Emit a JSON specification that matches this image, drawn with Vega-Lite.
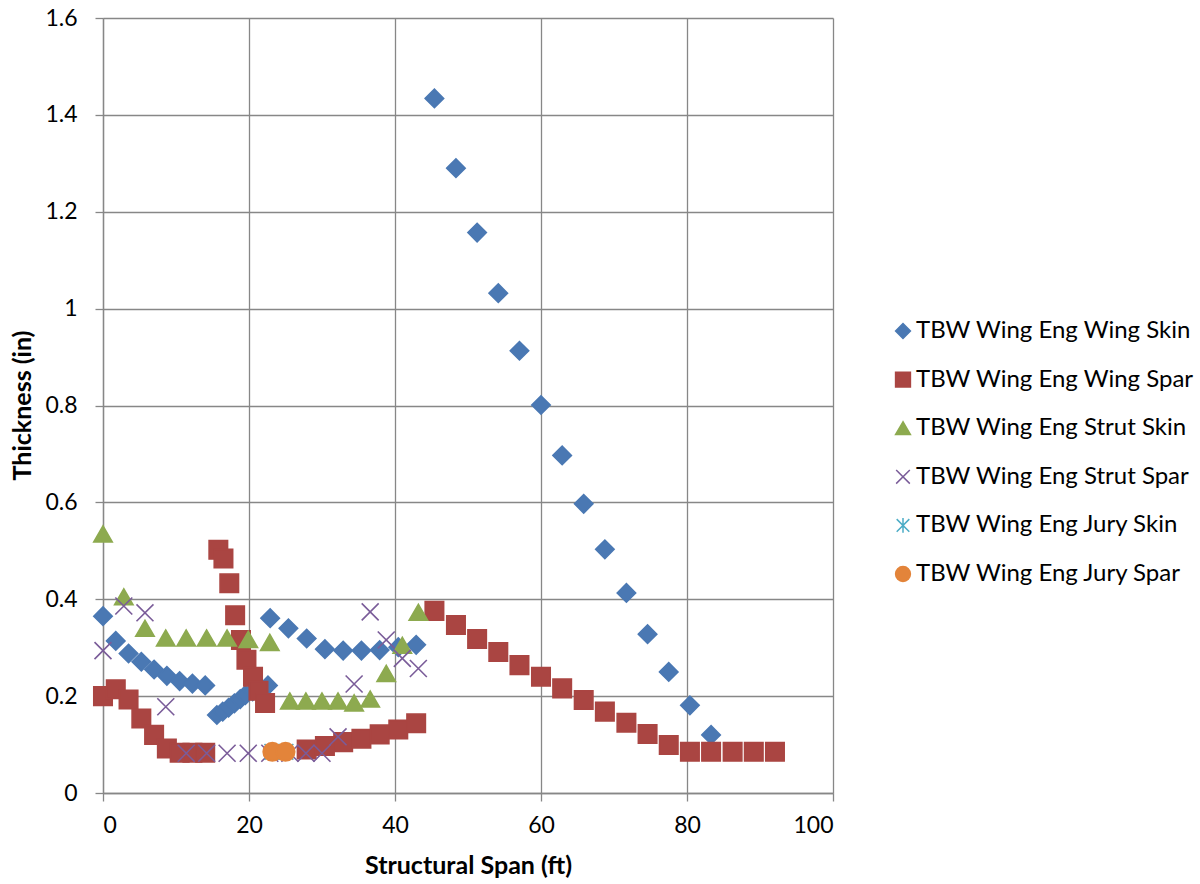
{
  "$schema": "https://vega.github.io/schema/vega-lite/v6.json",
  "width": 730,
  "height": 775,
  "autosize": {"type": "none"},
  "padding": {"left": 103, "top": 18, "right": 367, "bottom": 91},
  "background": "white",
  "data": {
    "values": [
      {"series": "TBW Wing Eng Wing Skin", "span": 0, "t": 0.365},
      {"series": "TBW Wing Eng Wing Skin", "span": 1.75, "t": 0.314},
      {"series": "TBW Wing Eng Wing Skin", "span": 3.5, "t": 0.288},
      {"series": "TBW Wing Eng Wing Skin", "span": 5.25, "t": 0.271},
      {"series": "TBW Wing Eng Wing Skin", "span": 7.0, "t": 0.255},
      {"series": "TBW Wing Eng Wing Skin", "span": 8.75, "t": 0.242},
      {"series": "TBW Wing Eng Wing Skin", "span": 10.5, "t": 0.231},
      {"series": "TBW Wing Eng Wing Skin", "span": 12.25, "t": 0.226},
      {"series": "TBW Wing Eng Wing Skin", "span": 14.0, "t": 0.222},
      {"series": "TBW Wing Eng Wing Skin", "span": 15.6, "t": 0.161},
      {"series": "TBW Wing Eng Wing Skin", "span": 16.4, "t": 0.168},
      {"series": "TBW Wing Eng Wing Skin", "span": 17.2, "t": 0.176},
      {"series": "TBW Wing Eng Wing Skin", "span": 18.0, "t": 0.185},
      {"series": "TBW Wing Eng Wing Skin", "span": 18.8, "t": 0.194},
      {"series": "TBW Wing Eng Wing Skin", "span": 19.5, "t": 0.202},
      {"series": "TBW Wing Eng Wing Skin", "span": 20.5, "t": 0.210},
      {"series": "TBW Wing Eng Wing Skin", "span": 21.5, "t": 0.216},
      {"series": "TBW Wing Eng Wing Skin", "span": 22.6, "t": 0.222},
      {"series": "TBW Wing Eng Wing Skin", "span": 22.9, "t": 0.361},
      {"series": "TBW Wing Eng Wing Skin", "span": 25.4, "t": 0.340},
      {"series": "TBW Wing Eng Wing Skin", "span": 27.9, "t": 0.319},
      {"series": "TBW Wing Eng Wing Skin", "span": 30.4, "t": 0.297},
      {"series": "TBW Wing Eng Wing Skin", "span": 32.9, "t": 0.294},
      {"series": "TBW Wing Eng Wing Skin", "span": 35.4, "t": 0.294},
      {"series": "TBW Wing Eng Wing Skin", "span": 37.9, "t": 0.295},
      {"series": "TBW Wing Eng Wing Skin", "span": 40.45, "t": 0.301},
      {"series": "TBW Wing Eng Wing Skin", "span": 42.9, "t": 0.306},
      {"series": "TBW Wing Eng Wing Skin", "span": 45.4, "t": 1.434},
      {"series": "TBW Wing Eng Wing Skin", "span": 48.35, "t": 1.290},
      {"series": "TBW Wing Eng Wing Skin", "span": 51.25, "t": 1.157},
      {"series": "TBW Wing Eng Wing Skin", "span": 54.15, "t": 1.032},
      {"series": "TBW Wing Eng Wing Skin", "span": 57.05, "t": 0.913},
      {"series": "TBW Wing Eng Wing Skin", "span": 60.0, "t": 0.801},
      {"series": "TBW Wing Eng Wing Skin", "span": 62.9, "t": 0.697},
      {"series": "TBW Wing Eng Wing Skin", "span": 65.85, "t": 0.597},
      {"series": "TBW Wing Eng Wing Skin", "span": 68.75, "t": 0.503},
      {"series": "TBW Wing Eng Wing Skin", "span": 71.7, "t": 0.413},
      {"series": "TBW Wing Eng Wing Skin", "span": 74.6, "t": 0.328},
      {"series": "TBW Wing Eng Wing Skin", "span": 77.5, "t": 0.250},
      {"series": "TBW Wing Eng Wing Skin", "span": 80.4, "t": 0.181},
      {"series": "TBW Wing Eng Wing Skin", "span": 83.3, "t": 0.120},

      {"series": "TBW Wing Eng Wing Spar", "span": 0, "t": 0.200},
      {"series": "TBW Wing Eng Wing Spar", "span": 1.75, "t": 0.214},
      {"series": "TBW Wing Eng Wing Spar", "span": 3.5, "t": 0.193},
      {"series": "TBW Wing Eng Wing Spar", "span": 5.25, "t": 0.154},
      {"series": "TBW Wing Eng Wing Spar", "span": 7.0, "t": 0.120},
      {"series": "TBW Wing Eng Wing Spar", "span": 8.75, "t": 0.092},
      {"series": "TBW Wing Eng Wing Spar", "span": 10.5, "t": 0.083},
      {"series": "TBW Wing Eng Wing Spar", "span": 12.25, "t": 0.083},
      {"series": "TBW Wing Eng Wing Spar", "span": 14.0, "t": 0.083},
      {"series": "TBW Wing Eng Wing Spar", "span": 15.8, "t": 0.502},
      {"series": "TBW Wing Eng Wing Spar", "span": 16.5, "t": 0.484},
      {"series": "TBW Wing Eng Wing Spar", "span": 17.3, "t": 0.433},
      {"series": "TBW Wing Eng Wing Spar", "span": 18.1, "t": 0.367},
      {"series": "TBW Wing Eng Wing Spar", "span": 18.9, "t": 0.316},
      {"series": "TBW Wing Eng Wing Spar", "span": 19.65, "t": 0.275},
      {"series": "TBW Wing Eng Wing Spar", "span": 20.55, "t": 0.240},
      {"series": "TBW Wing Eng Wing Spar", "span": 21.3, "t": 0.211},
      {"series": "TBW Wing Eng Wing Spar", "span": 22.2, "t": 0.186},
      {"series": "TBW Wing Eng Wing Spar", "span": 27.9, "t": 0.090},
      {"series": "TBW Wing Eng Wing Spar", "span": 30.4, "t": 0.097},
      {"series": "TBW Wing Eng Wing Spar", "span": 32.9, "t": 0.105},
      {"series": "TBW Wing Eng Wing Spar", "span": 35.4, "t": 0.112},
      {"series": "TBW Wing Eng Wing Spar", "span": 37.9, "t": 0.121},
      {"series": "TBW Wing Eng Wing Spar", "span": 40.45, "t": 0.131},
      {"series": "TBW Wing Eng Wing Spar", "span": 42.9, "t": 0.144},
      {"series": "TBW Wing Eng Wing Spar", "span": 45.4, "t": 0.376},
      {"series": "TBW Wing Eng Wing Spar", "span": 48.35, "t": 0.347},
      {"series": "TBW Wing Eng Wing Spar", "span": 51.25, "t": 0.318},
      {"series": "TBW Wing Eng Wing Spar", "span": 54.15, "t": 0.291},
      {"series": "TBW Wing Eng Wing Spar", "span": 57.05, "t": 0.264},
      {"series": "TBW Wing Eng Wing Spar", "span": 60.0, "t": 0.240},
      {"series": "TBW Wing Eng Wing Spar", "span": 62.9, "t": 0.216},
      {"series": "TBW Wing Eng Wing Spar", "span": 65.85, "t": 0.192},
      {"series": "TBW Wing Eng Wing Spar", "span": 68.75, "t": 0.168},
      {"series": "TBW Wing Eng Wing Spar", "span": 71.7, "t": 0.145},
      {"series": "TBW Wing Eng Wing Spar", "span": 74.6, "t": 0.122},
      {"series": "TBW Wing Eng Wing Spar", "span": 77.5, "t": 0.099},
      {"series": "TBW Wing Eng Wing Spar", "span": 80.4, "t": 0.085},
      {"series": "TBW Wing Eng Wing Spar", "span": 83.3, "t": 0.085},
      {"series": "TBW Wing Eng Wing Spar", "span": 86.25, "t": 0.085},
      {"series": "TBW Wing Eng Wing Spar", "span": 89.15, "t": 0.085},
      {"series": "TBW Wing Eng Wing Spar", "span": 92.05, "t": 0.085},

      {"series": "TBW Wing Eng Strut Skin", "span": 0, "t": 0.535},
      {"series": "TBW Wing Eng Strut Skin", "span": 2.85, "t": 0.405},
      {"series": "TBW Wing Eng Strut Skin", "span": 5.75, "t": 0.340},
      {"series": "TBW Wing Eng Strut Skin", "span": 8.6, "t": 0.320},
      {"series": "TBW Wing Eng Strut Skin", "span": 11.4, "t": 0.320},
      {"series": "TBW Wing Eng Strut Skin", "span": 14.2, "t": 0.320},
      {"series": "TBW Wing Eng Strut Skin", "span": 17.0, "t": 0.320},
      {"series": "TBW Wing Eng Strut Skin", "span": 19.9, "t": 0.317},
      {"series": "TBW Wing Eng Strut Skin", "span": 22.85, "t": 0.311},
      {"series": "TBW Wing Eng Strut Skin", "span": 25.6, "t": 0.190},
      {"series": "TBW Wing Eng Strut Skin", "span": 27.8, "t": 0.190},
      {"series": "TBW Wing Eng Strut Skin", "span": 30.0, "t": 0.190},
      {"series": "TBW Wing Eng Strut Skin", "span": 32.2, "t": 0.190},
      {"series": "TBW Wing Eng Strut Skin", "span": 34.4, "t": 0.186},
      {"series": "TBW Wing Eng Strut Skin", "span": 36.6, "t": 0.194},
      {"series": "TBW Wing Eng Strut Skin", "span": 38.8, "t": 0.247},
      {"series": "TBW Wing Eng Strut Skin", "span": 41.0, "t": 0.305},
      {"series": "TBW Wing Eng Strut Skin", "span": 43.2, "t": 0.373},

      {"series": "TBW Wing Eng Strut Spar", "span": 0, "t": 0.294},
      {"series": "TBW Wing Eng Strut Spar", "span": 2.85, "t": 0.386},
      {"series": "TBW Wing Eng Strut Spar", "span": 5.75, "t": 0.372},
      {"series": "TBW Wing Eng Strut Spar", "span": 8.6, "t": 0.178},
      {"series": "TBW Wing Eng Strut Spar", "span": 11.4, "t": 0.082},
      {"series": "TBW Wing Eng Strut Spar", "span": 14.2, "t": 0.082},
      {"series": "TBW Wing Eng Strut Spar", "span": 17.0, "t": 0.082},
      {"series": "TBW Wing Eng Strut Spar", "span": 19.9, "t": 0.082},
      {"series": "TBW Wing Eng Strut Spar", "span": 22.85, "t": 0.082},
      {"series": "TBW Wing Eng Strut Spar", "span": 25.6, "t": 0.082},
      {"series": "TBW Wing Eng Strut Spar", "span": 27.8, "t": 0.082},
      {"series": "TBW Wing Eng Strut Spar", "span": 30.0, "t": 0.082},
      {"series": "TBW Wing Eng Strut Spar", "span": 32.2, "t": 0.116},
      {"series": "TBW Wing Eng Strut Spar", "span": 34.4, "t": 0.225},
      {"series": "TBW Wing Eng Strut Spar", "span": 36.6, "t": 0.374},
      {"series": "TBW Wing Eng Strut Spar", "span": 38.8, "t": 0.316},
      {"series": "TBW Wing Eng Strut Spar", "span": 41.0, "t": 0.278},
      {"series": "TBW Wing Eng Strut Spar", "span": 43.2, "t": 0.257},

      {"series": "TBW Wing Eng Jury Skin", "span": 23.2, "t": 0.085},
      {"series": "TBW Wing Eng Jury Skin", "span": 25.0, "t": 0.085},

      {"series": "TBW Wing Eng Jury Spar", "span": 23.2, "t": 0.085},
      {"series": "TBW Wing Eng Jury Spar", "span": 25.0, "t": 0.085}
    ]
  },
  "mark": {"type": "point", "filled": true, "opacity": 1, "size": 340, "strokeWidth": 1.6},
  "encoding": {
    "x": {
      "field": "span", "type": "quantitative",
      "scale": {"domain": [0, 100], "nice": false, "zero": false},
      "axis": {"values": [0, 20, 40, 60, 80, 100], "title": "Structural Span (ft)", "titleX": 365, "titleY": 72, "titleBaseline": "middle", "titleAnchor": null}
    },
    "y": {
      "field": "t", "type": "quantitative",
      "scale": {"domain": [0, 1.6], "nice": false},
      "axis": {"values": [0, 0.2, 0.4, 0.6, 0.8, 1, 1.2, 1.4, 1.6], "format": "~g", "title": "Thickness (in)", "titleX": -81, "titleY": 387, "titleAngle": 270, "titleBaseline": "middle", "titleAlign": "center", "titleAnchor": null}
    },
    "color": {
      "field": "series", "type": "nominal",
      "scale": {
        "domain": ["TBW Wing Eng Wing Skin", "TBW Wing Eng Wing Spar", "TBW Wing Eng Strut Skin", "TBW Wing Eng Strut Spar", "TBW Wing Eng Jury Skin", "TBW Wing Eng Jury Spar"],
        "range": ["#4A78B3", "#AA4542", "#8DAA4F", "#7A5C99", "#4BACC6", "#E3843A"]
      },
      "legend": {"title": null}
    },
    "stroke": {
      "field": "series", "type": "nominal",
      "scale": {
        "domain": ["TBW Wing Eng Wing Skin", "TBW Wing Eng Wing Spar", "TBW Wing Eng Strut Skin", "TBW Wing Eng Strut Spar", "TBW Wing Eng Jury Skin", "TBW Wing Eng Jury Spar"],
        "range": ["#4A78B3", "#AA4542", "#8DAA4F", "#7A5C99", "#4BACC6", "#E3843A"]
      },
      "legend": {"title": null}
    },
    "shape": {
      "field": "series", "type": "nominal",
      "scale": {
        "domain": ["TBW Wing Eng Wing Skin", "TBW Wing Eng Wing Spar", "TBW Wing Eng Strut Skin", "TBW Wing Eng Strut Spar", "TBW Wing Eng Jury Skin", "TBW Wing Eng Jury Spar"],
        "range": ["diamond", "square", "triangle-up", "M-0.92,-0.92L0.92,0.92M-0.92,0.92L0.92,-0.92", "M-0.85,-0.85L0.85,0.85M-0.85,0.85L0.85,-0.85M0,-1L0,1", "circle"]
      },
      "legend": {"title": null}
    }
  },
  "config": {
    "view": {"stroke": null},
    "font": "Lato",
    "axis": {
      "gridColor": "#878787", "gridWidth": 1.3, "gridOpacity": 1,
      "domainColor": "#878787", "domainWidth": 1.3,
      "tickColor": "#878787", "tickWidth": 1.3, "tickSize": 8,
      "labelFont": "Lato", "labelFontSize": 23, "labelColor": "#000000",
      "titleFont": "Lato", "titleFontSize": 25, "titleFontWeight": "bold", "titleColor": "#000000"
    },
    "axisX": {"labelPadding": 13},
    "axisY": {"labelPadding": 18},
    "legend": {
      "orient": "none", "legendX": 788, "legendY": 301,
      "labelFont": "Lato", "labelFontSize": 24, "labelColor": "#000000",
      "symbolSize": 220, "symbolStrokeWidth": 1.5, "labelOffset": 1,
      "rowPadding": 24.6, "labelLimit": 400
    }
  }
}
